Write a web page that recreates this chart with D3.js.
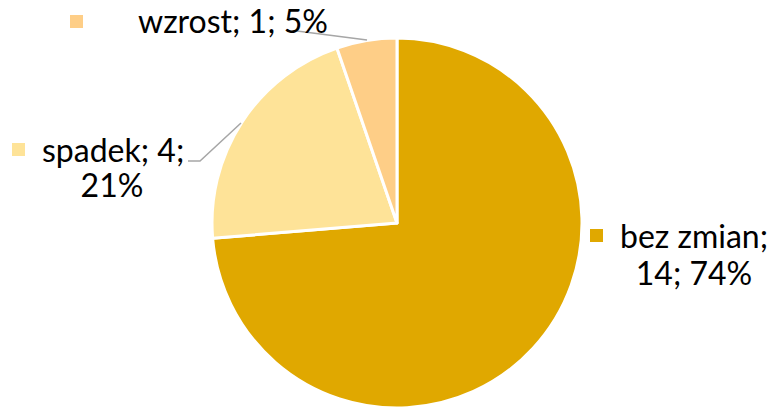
<!DOCTYPE html>
<html lang="pl">
<head>
<meta charset="utf-8">
<title>Pie</title>
<script src="https://d3js.org/d3.v7.min.js"></script>
<style>
  body { margin: 0; background: #fff; }
  text { font-family: Lato, "Open Sans", sans-serif; fill: #000; }
</style>
</head>
<body>
<div id="chart"></div>
<script>
var w = 773, h = 407;
var categories = ["bez zmian", "spadek", "wzrost"];
var values = [14, 4, 1];
var percents = ["74%", "21%", "5%"];
var colors = ["#E0A800", "#FEE398", "#FECE87"];

var cx = 397, cy = 223, r = 185;

var svg = d3.select("#chart").append("svg")
  .attr("width", w).attr("height", h);

var pie = d3.pie().sort(null)(values);
var arc = d3.arc().innerRadius(0).outerRadius(r);

var g = svg.append("g").attr("transform", "translate(" + cx + "," + cy + ")");
g.selectAll("path")
  .data(pie)
  .enter()
  .append("path")
  .attr("d", arc)
  .attr("fill", function(d, i) { return colors[i]; })
  .attr("stroke", "#fff")
  .attr("stroke-width", 3)
  .attr("stroke-linejoin", "round");

// leader lines
var lines = [
  [[188, 161], [200, 161], [241, 123]],
  [[297, 31], [367, 40]]
];
svg.selectAll("path.leader")
  .data(lines)
  .enter()
  .append("path")
  .attr("class", "leader")
  .attr("d", d3.line())
  .attr("fill", "none")
  .attr("stroke", "#A6A6A6")
  .attr("stroke-width", 1.5);

// labels: legend key square + text lines
var labels = [
  { key: [590, 229], lines: [[620, 248, "start", categories[0] + ";"], [694, 285, "middle", values[0] + "; " + percents[0]]] },
  { key: [12, 143], lines: [[42, 162, "start", categories[1] + "; " + values[1] + ";"], [112, 197, "middle", percents[1]]] },
  { key: [70, 15], lines: [[138, 33, "start", categories[2] + "; " + values[2] + "; " + percents[2]]] }
];

labels.forEach(function(l, i) {
  svg.append("rect")
    .attr("x", l.key[0]).attr("y", l.key[1])
    .attr("width", 13).attr("height", 13)
    .attr("fill", colors[i]);
  l.lines.forEach(function(t) {
    svg.append("text")
      .attr("x", t[0]).attr("y", t[1])
      .attr("text-anchor", t[2])
      .attr("font-size", "32px")
      .text(t[3]);
  });
});
</script>
</body>
</html>
